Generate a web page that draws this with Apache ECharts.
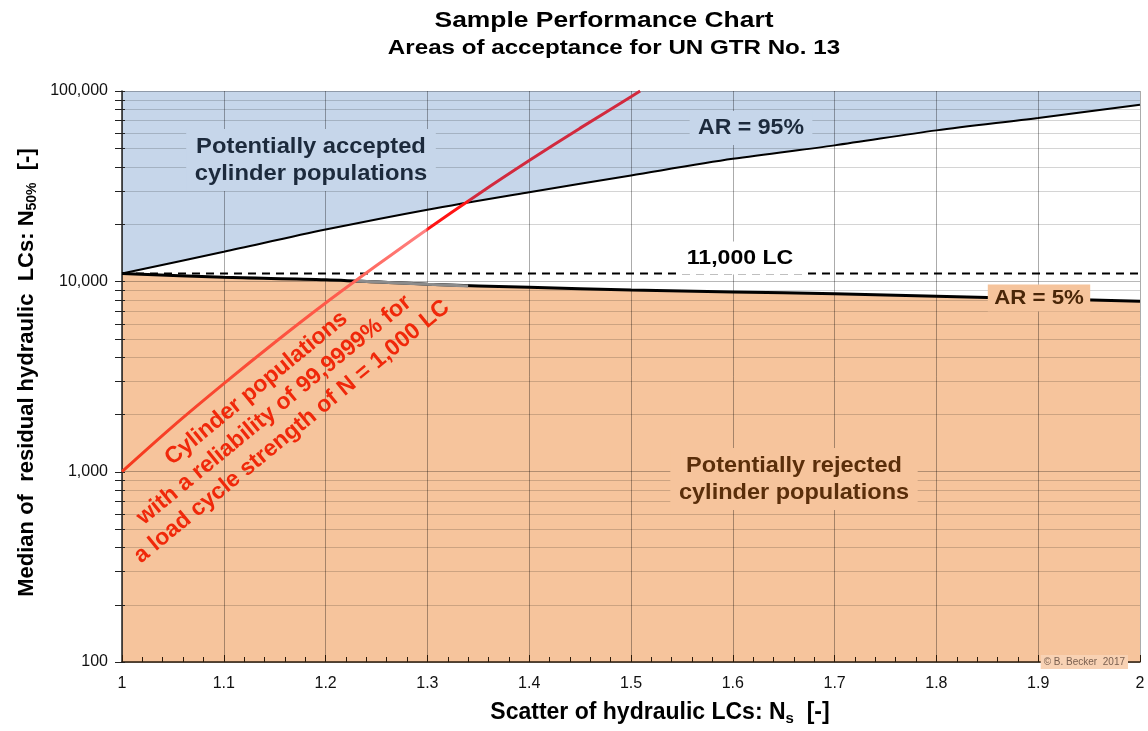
<!DOCTYPE html>
<html><head><meta charset="utf-8">
<script src="https://cdn.jsdelivr.net/npm/echarts@6/dist/echarts.min.js"></script>
<style>html,body{margin:0;padding:0;background:#fff}#c{width:1148px;height:731px}</style>
</head><body><div id="c"></div>
<script>
// ---- data ----
const nsAR = [1.0, 1.1, 1.2, 1.3, 1.4, 1.5, 1.6, 1.7, 1.8, 1.9, 2.0];
const ar95 = [11000, 14300, 18700, 23800, 29400, 36000, 44000, 51800, 62100, 72100, 84700];
const ar5  = [11000, 10500, 10200, 9650, 9300, 9000, 8800, 8600, 8350, 8100, 7850];
const nsRel = [1.0, 1.05, 1.1, 1.15, 1.2, 1.25, 1.3, 1.35, 1.4, 1.45, 1.5, 1.509];
const rel   = [1000, 1730, 2900, 4770, 7690, 12100, 18800, 28700, 43100, 63800, 93300, 100000];
const nsGray = [1.23, 1.3, 1.34];
const grayBand = [10050, 9650, 9450];
const lcLimit = 11000;
const xRange = [1, 2];
const yRange = [100, 100000];
const yMajor = [100, 1000, 10000, 100000];
const yMinor = [200,300,400,500,600,700,800,900,2000,3000,4000,5000,6000,7000,8000,9000,
                20000,30000,40000,50000,60000,70000,80000,90000];

// ---- chart ----
const FONT = 'Liberation Sans, Arial, sans-serif';
const pairs = (xs, ys) => xs.map((x, i) => [x, ys[i]]);
const chart = echarts.init(document.getElementById('c'), null, {renderer: 'canvas'});

const relStops = [
  {offset: 0, color: '#f5381c'},
  {offset: 0.40, color: '#ff5a4a'},
  {offset: 0.585, color: '#ff8282'},
  {offset: 0.59, color: '#ff1414'},
  {offset: 0.665, color: '#ff1414'},
  {offset: 0.67, color: '#d22a3e'},
  {offset: 1, color: '#d22a3e'}
];

chart.setOption({
  animation: false,
  backgroundColor: '#fff',
  grid: {left: 122, right: 8, top: 91, bottom: 65, show: false},
  xAxis: {
    type: 'value', min: xRange[0], max: xRange[1], interval: 0.1,
    name: 'Scatter of hydraulic LCs: N{sub|s}  [-]',
    nameLocation: 'middle', nameGap: 38,
    nameTextStyle: {fontFamily: FONT, fontSize: 23, fontWeight: 'bold', color: '#000', padding: [0, 0, 0, 58],
      rich: {sub: {fontFamily: FONT, fontSize: 15, fontWeight: 'bold', color: '#000', verticalAlign: 'bottom', padding: [11, 0, 0, 0]}}},
    axisLine: {lineStyle: {color: '#2a1a0a', width: 1.5}},
    axisTick: {inside: true, length: 7, lineStyle: {color: '#2a1a0a'}},
    minorTick: {show: true, splitNumber: 5, length: 5, lineStyle: {color: '#2a1a0a'}},
    axisLabel: {fontFamily: FONT, fontSize: 16, color: '#111', margin: 14,
      formatter: v => String(+v.toFixed(1))},
    splitLine: {show: true, lineStyle: {color: 'rgba(0,0,0,0.33)', width: 1}}
  },
  yAxis: {
    type: 'log', logBase: 10, min: yRange[0], max: yRange[1],
    name: 'Median of  residual hydraulic  LCs: N{sub|50%}  [-]',
    nameLocation: 'middle', nameGap: 82,
    nameTextStyle: {fontFamily: FONT, fontSize: 22, fontWeight: 'bold', color: '#000', padding: [0, 0, 0, 8],
      rich: {sub: {fontFamily: FONT, fontSize: 14, fontWeight: 'bold', color: '#000', verticalAlign: 'bottom', padding: [11, 0, 0, 0]}}},
    axisLine: {show: true, lineStyle: {color: '#222', width: 1.5}},
    axisTick: {show: false},
    axisLabel: {fontFamily: FONT, fontSize: 16, color: '#111', margin: 14,
      formatter: v => Math.round(v).toLocaleString('en-US')},
    splitLine: {show: true, lineStyle: {color: 'rgba(0,0,0,0.28)', width: 1}}
  },
  series: [
    // blue region (whole plot), white under AR95, orange under AR5
    {type: 'line', z: -3, silent: true, symbol: 'none', data: pairs(nsAR, nsAR.map(() => yRange[1])),
      lineStyle: {width: 0}, areaStyle: {color: '#c6d6ea', opacity: 1, origin: 'start'}},
    {type: 'line', z: -2, silent: true, symbol: 'none', smooth: 0.3, data: pairs(nsAR, ar95),
      lineStyle: {width: 0}, areaStyle: {color: '#ffffff', opacity: 1, origin: 'start'}},
    {type: 'line', z: -1, silent: true, symbol: 'none', smooth: 0.3, data: pairs(nsAR, ar5),
      lineStyle: {width: 0}, areaStyle: {color: '#f6c49c', opacity: 1, origin: 'start'}},
    // minor horizontal gridlines + left axis ticks
    {type: 'custom', z: 1, silent: true, clip: false,
      data: yMinor.map(v => [xRange[0], v]).concat(yMajor.map(v => [xRange[0], v])),
      encode: {x: 0, y: 1},
      renderItem: (params, api) => {
        const v = api.value(1);
        const p0 = api.coord([xRange[0], v]);
        const p1 = api.coord([xRange[1], v]);
        const y = Math.round(p0[1]) + 0.5;
        const ch = [];
        if (yMinor.indexOf(v) >= 0) {
          ch.push({type: 'line', shape: {x1: p0[0], y1: y, x2: p1[0], y2: y},
            style: {stroke: 'rgba(0,0,0,0.17)', lineWidth: 1}});
        }
        ch.push({type: 'line', shape: {x1: p0[0] - 7, y1: y, x2: p0[0] + 3, y2: y},
          style: {stroke: '#222', lineWidth: 1}});
        return {type: 'group', children: ch};
      }
    },
    // 11,000 LC dashed line
    {type: 'line', z: 4, silent: true, symbol: 'none', data: pairs(xRange, xRange.map(() => lcLimit)),
      lineStyle: {color: '#000', width: 2, type: [8, 6]}},
    // AR = 95% curve
    {type: 'line', z: 5, silent: true, symbol: 'none', smooth: 0.3, data: pairs(nsAR, ar95),
      lineStyle: {color: '#000', width: 2}},
    // AR = 5% curve
    {type: 'line', z: 5, silent: true, symbol: 'none', smooth: 0.3, data: pairs(nsAR, ar5),
      lineStyle: {color: '#000', width: 3}},
    {type: 'line', z: 6, silent: true, symbol: 'none', data: pairs(nsGray, grayBand),
      lineStyle: {color: '#8c8c8c', width: 3}},
    // reliability line
    {type: 'line', z: 7, silent: true, symbol: 'none', smooth: 0.3, data: pairs(nsRel, rel),
      lineStyle: {width: 3, color: new echarts.graphic.LinearGradient(0, 0, 1, 0, relStops)}}
  ],
  graphic: [
    {type: 'text', x: 604, y: 21, z: 10, scaleX: 1.2, style: {text: 'Sample Performance Chart',
      font: 'bold 22px ' + FONT, fill: '#000', align: 'center', verticalAlign: 'middle'}},
    {type: 'text', x: 614, y: 48, z: 10, scaleX: 1.15, style: {text: 'Areas of acceptance for UN GTR No. 13',
      font: 'bold 21px ' + FONT, fill: '#000', align: 'center', verticalAlign: 'middle'}},
    {type: 'text', x: 311, y: 160, z: 10, scaleX: 1.08, style: {text: 'Potentially accepted\ncylinder populations',
      font: 'bold 22px ' + FONT, fill: '#1c2a3c', align: 'center', verticalAlign: 'middle', lineHeight: 27,
      backgroundColor: '#c6d6ea', padding: [4, 8]}},
    {type: 'text', x: 751, y: 128, z: 10, scaleX: 1.05, style: {text: 'AR = 95%',
      font: 'bold 22px ' + FONT, fill: '#1c2a3c', align: 'center', verticalAlign: 'middle',
      backgroundColor: '#c6d6ea', padding: [6, 8]}},
    {type: 'text', x: 740, y: 258, z: 10, scaleX: 1.1, style: {text: '11,000 LC',
      font: 'bold 21px ' + FONT, fill: '#000', align: 'center', verticalAlign: 'middle',
      backgroundColor: '#ffffff', padding: [6, 8]}},
    {type: 'text', x: 1039, y: 298, z: 10, scaleX: 1.06, style: {text: 'AR = 5%',
      font: 'bold 21px ' + FONT, fill: '#4a2608', align: 'center', verticalAlign: 'middle',
      backgroundColor: '#f6c49c', padding: [3, 6]}},
    {type: 'text', x: 794, y: 479, z: 10, scaleX: 1.07, style: {text: 'Potentially rejected\ncylinder populations',
      font: 'bold 22px ' + FONT, fill: '#5a2e0a', align: 'center', verticalAlign: 'middle', lineHeight: 27,
      backgroundColor: '#f6c49c', padding: [4, 8]}},
    {type: 'text', x: 274, y: 410, z: 10, rotation: 39.4 * Math.PI / 180, style: {
      text: 'Cylinder populations\nwith a reliability of 99,9999% for\na load cycle strength of N = 1,000 LC',
      font: 'bold 23px ' + FONT, fill: '#f0280a', align: 'center', verticalAlign: 'middle', lineHeight: 28}},
    {type: 'text', x: 1128, y: 662, z: 10, style: {text: '© B. Becker  2017',
      font: '10px ' + FONT, fill: '#7a6050', align: 'right', verticalAlign: 'middle',
      backgroundColor: '#f8d2b4', padding: [2, 3]}}
  ]
});
</script></body></html>
